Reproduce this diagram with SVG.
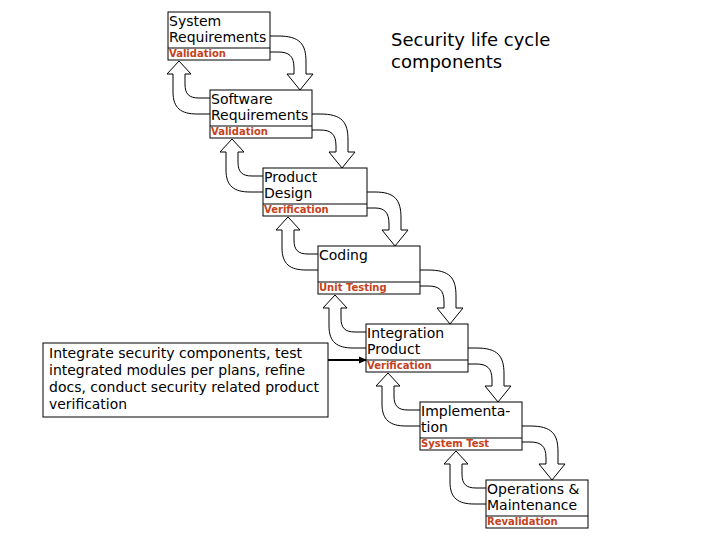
<svg xmlns="http://www.w3.org/2000/svg" width="720" height="540" viewBox="0 0 720 540">
<style>
.bg{fill:#ffffff}
.box{fill:#ffffff;stroke:#000000;stroke-width:1}
.div{stroke:#000000;stroke-width:1}
.t{font-family:"DejaVu Sans",Verdana,sans-serif;font-size:14px;fill:#000000}
.lab{font-family:"DejaVu Sans",Verdana,sans-serif;font-size:10px;font-weight:bold;fill:#c4421c}
.title{font-family:"DejaVu Sans",Verdana,sans-serif;font-size:18px;fill:#000000}
.arr{fill:#ffffff;stroke:#000000;stroke-width:1;stroke-linejoin:miter}
.pl{fill:none;stroke:#000000;stroke-width:2}
</style>
<defs>
<marker id="ah" markerWidth="8" markerHeight="8" refX="7" refY="4" orient="auto" markerUnits="userSpaceOnUse">
<path d="M0,0.5 L8,4 L0,7.5 Z" fill="#000000"/>
</marker>
</defs>
<rect class="bg" x="0" y="0" width="720" height="540"/>
<g id="connectors">
<path class="arr" d="M270,36 L278,36 C300,36 306,44 306,62 L306,74 L313,74 L300,90 L287,74 L294,74 L294,68 C294,56 289,52 278,52 L270,52"/>
<path class="arr" d="M312,114 L320,114 C342,114 348,122 348,140 L348,152 L355,152 L342,168 L329,152 L336,152 L336,146 C336,134 331,130 320,130 L312,130"/>
<path class="arr" d="M367,192 L375,192 C395,192 401,200 401,218 L401,230 L408,230 L395,246 L382,230 L389,230 L389,224 C389,212 384,208 375,208 L367,208"/>
<path class="arr" d="M420,270 L428,270 C450,270 456,278 456,296 L456,308 L463,308 L450,324 L437,308 L444,308 L444,302 C444,290 439,286 428,286 L420,286"/>
<path class="arr" d="M468,348 L476,348 C498,348 504,356 504,374 L504,386 L511,386 L498,402 L485,386 L492,386 L492,380 C492,368 487,364 476,364 L468,364"/>
<path class="arr" d="M522,426 L530,426 C552,426 558,434 558,452 L558,464 L565,464 L552,480 L539,464 L546,464 L546,458 C546,446 541,442 530,442 L522,442"/>
<path class="arr" d="M210,98 L199,98 C189,98 185,94 185,84 L185,74 L191,74 L179,61 L167,74 L173,74 L173,92 C173,108 181,114 197,114 L210,114"/>
<path class="arr" d="M263,176 L252,176 C242,176 238,172 238,162 L238,152 L244,152 L232,139 L220,152 L226,152 L226,170 C226,186 234,192 250,192 L263,192"/>
<path class="arr" d="M318,254 L308,254 C298,254 294,250 294,240 L294,230 L300,230 L288,217 L276,230 L282,230 L282,248 C282,264 290,270 306,270 L318,270"/>
<path class="arr" d="M366,332 L355,332 C345,332 341,328 341,318 L341,308 L347,308 L335,295 L323,308 L329,308 L329,326 C329,342 337,348 353,348 L366,348"/>
<path class="arr" d="M420,410 L408,410 C398,410 394,406 394,396 L394,386 L400,386 L388,373 L376,386 L382,386 L382,404 C382,420 390,426 406,426 L420,426"/>
<path class="arr" d="M486,488 L476,488 C466,488 462,484 462,474 L462,464 L468,464 L456,451 L444,464 L450,464 L450,482 C450,498 458,504 474,504 L486,504"/>
<line class="pl" x1="328" y1="360" x2="366" y2="360" marker-end="url(#ah)"/>
</g>
<g id="title">
<text class="title" x="391" y="46">Security life cycle</text>
<text class="title" x="391" y="68">components</text>
</g>
<g id="n1">
<rect class="box" x="168" y="12" width="102" height="48"/>
<line class="div" x1="168" y1="48" x2="270" y2="48"/>
<text class="t" x="169" y="26">System</text>
<text class="t" x="169" y="42">Requirements</text>
<text class="lab" x="169" y="57">Validation</text>
</g>
<g id="n2">
<rect class="box" x="210" y="90" width="102" height="48"/>
<line class="div" x1="210" y1="126" x2="312" y2="126"/>
<text class="t" x="211" y="104">Software</text>
<text class="t" x="211" y="120">Requirements</text>
<text class="lab" x="211" y="135">Validation</text>
</g>
<g id="n3">
<rect class="box" x="263" y="168" width="104" height="48"/>
<line class="div" x1="263" y1="204" x2="367" y2="204"/>
<text class="t" x="264" y="182">Product</text>
<text class="t" x="264" y="198">Design</text>
<text class="lab" x="264" y="213">Verification</text>
</g>
<g id="n4">
<rect class="box" x="318" y="246" width="102" height="48"/>
<line class="div" x1="318" y1="282" x2="420" y2="282"/>
<text class="t" x="319" y="260">Coding</text>
<text class="lab" x="319" y="291">Unit Testing</text>
</g>
<g id="n5">
<rect class="box" x="366" y="324" width="102" height="48"/>
<line class="div" x1="366" y1="360" x2="468" y2="360"/>
<text class="t" x="367" y="338">Integration</text>
<text class="t" x="367" y="354">Product</text>
<text class="lab" x="367" y="369">Verification</text>
</g>
<g id="n6">
<rect class="box" x="420" y="402" width="102" height="48"/>
<line class="div" x1="420" y1="438" x2="522" y2="438"/>
<text class="t" x="421" y="416">Implementa-</text>
<text class="t" x="421" y="432">tion</text>
<text class="lab" x="421" y="447">System Test</text>
</g>
<g id="n7">
<rect class="box" x="486" y="480" width="102" height="48"/>
<line class="div" x1="486" y1="516" x2="588" y2="516"/>
<text class="t" x="487" y="494">Operations &amp;</text>
<text class="t" x="487" y="510">Maintenance</text>
<text class="lab" x="487" y="525">Revalidation</text>
</g>
<g id="callout">
<rect class="box" x="43" y="343" width="285" height="74"/>
<text class="t" x="49" y="358" textLength="253" lengthAdjust="spacingAndGlyphs">Integrate security components, test</text>
<text class="t" x="49" y="375" textLength="256" lengthAdjust="spacingAndGlyphs">integrated modules per plans, refine</text>
<text class="t" x="49" y="392" textLength="270" lengthAdjust="spacingAndGlyphs">docs, conduct security related product</text>
<text class="t" x="49" y="409" textLength="78" lengthAdjust="spacingAndGlyphs">verification</text>
</g>
</svg>
